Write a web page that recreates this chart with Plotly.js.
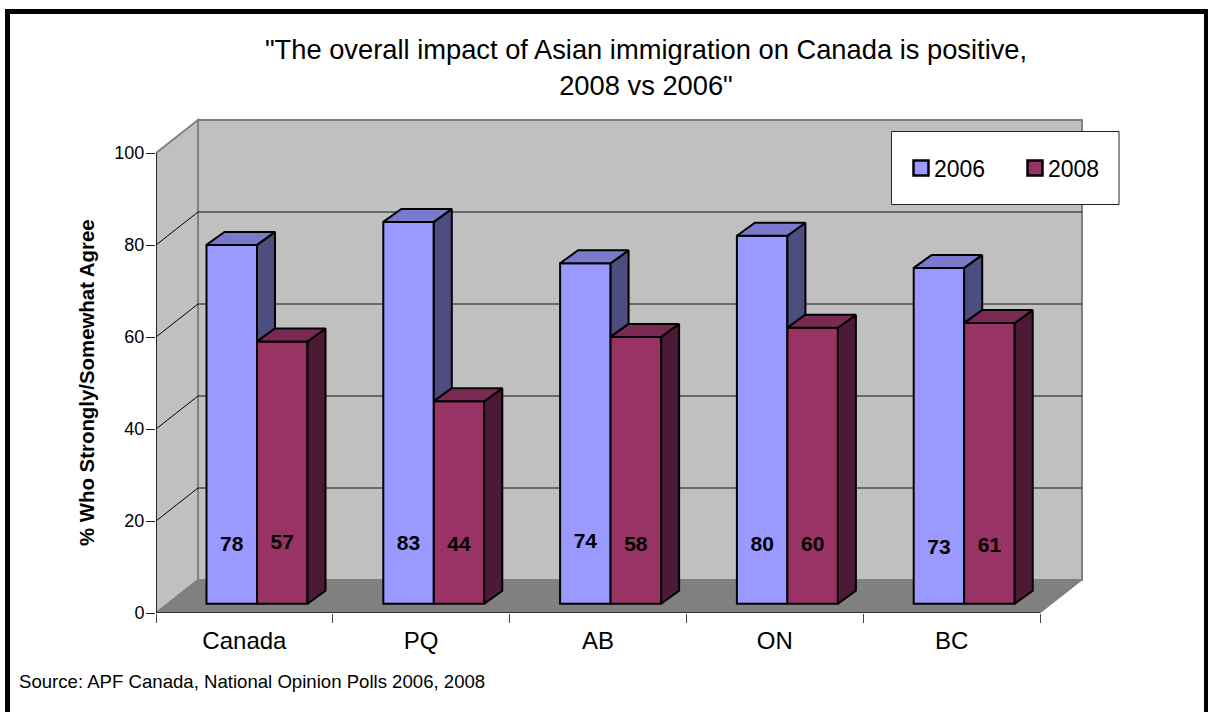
<!DOCTYPE html>
<html>
<head>
<meta charset="utf-8">
<script src="https://cdn.plot.ly/plotly-3.0.1.min.js"></script>
<style>
html,body{margin:0;padding:0;background:#fff;width:1208px;height:712px;overflow:hidden}
#chart{position:absolute;left:0;top:0;width:1208px;height:712px}
#frame{position:absolute;left:5px;top:9px;width:1194px;height:703px;border-left:5px solid #000;border-top:5px solid #000;border-right:4px solid #000;pointer-events:none}
</style>
</head>
<body>
<div id="chart"></div>
<div id="frame"></div>
<script>
const categories = ['Canada', 'PQ', 'AB', 'ON', 'BC'];
const values2006 = [78, 83, 74, 80, 73];
const values2008 = [57, 44, 58, 60, 61];
const labelHeight2006 = [14.6, 14.8, 15.2, 14.6, 13.9];
const labelHeight2008 = [15.0, 14.6, 14.6, 14.6, 14.3];
const yTicks = [0, 20, 40, 60, 80, 100];

const FONT = 'Liberation Sans, Arial, sans-serif';
// pixel scale of the axes
const PXX = 176.8, PXY = 4.6;
const L = 156, T = 116, BOT = 613, W = 930, H = BOT - T;
const xMin = -0.5, xEnd = 4.5;
const wallX = 42 / PXX, wallY = 33 / PXY;      // depth of the box
const depthX = 18 / PXX, depthY = 13 / PXY;    // depth of a bar
const barW = 50.5 / PXX, shift = 12.6 / PXX, barBase = 9.3 / PXY;
const xRange = [xMin, xMin + W / PXX];
const yRange = [0, H / PXY];
const pos = categories.map((c, i) => i);

function polys(list) {
  const x = [], y = [];
  list.forEach(p => { p.forEach(q => { x.push(q[0]); y.push(q[1]); }); x.push(p[0][0]); y.push(p[0][1]); x.push(null); y.push(null); });
  return {x, y};
}
function face(list, color) {
  const d = polys(list);
  return {type: 'scatter', mode: 'lines', x: d.x, y: d.y, fill: 'toself', fillcolor: color,
          line: {color: '#000', width: 2}, showlegend: false, hoverinfo: 'skip', cliponaxis: false};
}
const top6 = values2006.map(v => v + barBase), top8 = values2008.map(v => v + barBase);
const side6 = pos.map(i => { const x = i + shift; return [[x, top6[i]], [x + depthX, top6[i] + depthY], [x + depthX, top8[i] + depthY], [x, top8[i]]]; });
const cap6 = pos.map(i => { const r = i + shift, l = r - barW; return [[l, top6[i]], [l + depthX, top6[i] + depthY], [r + depthX, top6[i] + depthY], [r, top6[i]]]; });
const side8 = pos.map(i => { const x = i + shift + barW; return [[x, top8[i]], [x + depthX, top8[i] + depthY], [x + depthX, barBase + depthY], [x, barBase]]; });
const cap8 = pos.map(i => { const l = i + shift, r = l + barW; return [[l, top8[i]], [l + depthX, top8[i] + depthY], [r + depthX, top8[i] + depthY], [r, top8[i]]]; });

function barTrace(name, vals, color, offset) {
  return {type: 'bar', name, x: pos.map(i => i + shift), y: vals, base: pos.map(() => barBase),
          width: barW, offset, marker: {color, line: {color: '#000', width: 2}}, hoverinfo: 'skip', cliponaxis: false};
}
function labelTrace(vals, heights, offset) {
  return {type: 'scatter', mode: 'text', x: pos.map(i => i + shift + offset), y: heights, text: vals.map(String),
          textposition: 'middle center', textfont: {family: FONT, size: 21, color: '#000', weight: 700},
          showlegend: false, hoverinfo: 'skip', cliponaxis: false};
}
const axisLines = {type: 'scatter', mode: 'lines', x: [xMin, xMin, null, xMin, xEnd], y: [100, 0, null, 0, 0],
                   line: {color: '#111', width: 1.6}, showlegend: false, hoverinfo: 'skip', cliponaxis: false};

const traces = [
  barTrace('2006', values2006, '#9999FF', -barW),
  barTrace('2008', values2008, '#993366', 0),
  face(side6, '#4D4D80'), face(cap6, '#7A7ACC'),
  face(side8, '#4D1A33'), face(cap8, '#7A2952'),
  labelTrace(values2006, labelHeight2006, -barW / 2),
  labelTrace(values2008, labelHeight2008, barW / 2),
  axisLines
];

function path(pts) { return 'M' + pts.map(p => p[0] + ' ' + p[1]).join('L') + 'Z'; }
const shapes = [
  {type: 'path', layer: 'below', xref: 'x', yref: 'y', fillcolor: '#C0C0C0', line: {color: '#808080', width: 2},
   path: path([[xMin + wallX, wallY], [xEnd + wallX, wallY], [xEnd + wallX, 100 + wallY], [xMin + wallX, 100 + wallY]])},
  {type: 'path', layer: 'below', xref: 'x', yref: 'y', fillcolor: '#C0C0C0', line: {color: '#808080', width: 2},
   path: path([[xMin, 0], [xMin + wallX, wallY], [xMin + wallX, 100 + wallY], [xMin, 100]])},
  {type: 'path', layer: 'below', xref: 'x', yref: 'y', fillcolor: '#808080', line: {color: '#808080', width: 1},
   path: path([[xMin, 0], [xMin + wallX, wallY], [xEnd + wallX, wallY], [xEnd, 0]])}
];
yTicks.filter(v => v > 0 && v < 100).forEach(v => {
  shapes.push({type: 'line', layer: 'below', xref: 'x', yref: 'y', x0: xMin, y0: v, x1: xMin + wallX, y1: v + wallY, line: {color: '#000', width: 1}});
  shapes.push({type: 'line', layer: 'below', xref: 'x', yref: 'y', x0: xMin + wallX, y0: v + wallY, x1: xEnd + wallX, y1: v + wallY, line: {color: '#111', width: 1}});
});
// legend panel
shapes.push({type: 'rect', layer: 'above', xref: 'paper', yref: 'paper',
  x0: (891.5 - L) / W, x1: (1119 - L) / W, y0: (BOT - 204.5) / H, y1: (BOT - 131.5) / H,
  fillcolor: '#fff', line: {color: '#222', width: 1}});

const layout = {
  width: 1208, height: 712,
  margin: {l: L, t: T, r: 1208 - L - W, b: 712 - BOT, pad: 0},
  paper_bgcolor: '#fff', plot_bgcolor: 'rgba(0,0,0,0)',
  barmode: 'overlay',
  font: {family: FONT, color: '#000'},
  title: {text: '"The overall impact of Asian immigration on Canada is positive,<br>2008 vs 2006"',
          font: {family: FONT, size: 27.3, color: '#000'}, x: 646 / 1208, xanchor: 'center', y: 0.917, yanchor: 'middle'},
  xaxis: {range: xRange, showgrid: false, zeroline: false, showline: false, ticks: '',
          tickmode: 'array', tickvals: pos, ticktext: categories, ticklabelstandoff: 11,
          tickfont: {family: FONT, size: 24, color: '#000'},
          minor: {ticks: 'outside', ticklen: 9, tickwidth: 1, tickcolor: '#444', tickmode: 'array', tickvals: [-0.5, 0.5, 1.5, 2.5, 3.5, 4.5], showgrid: false}},
  yaxis: {range: yRange, showgrid: false, zeroline: false, showline: false, ticks: 'outside', ticklen: 9, tickwidth: 1, tickcolor: '#222',
          tickmode: 'array', tickvals: yTicks, ticktext: yTicks.map(String), ticklabelstandoff: -2,
          tickfont: {family: FONT, size: 18, color: '#000'}},
  legend: {orientation: 'h', x: (894 - L) / W, xanchor: 'left', y: (BOT - 168) / H, yanchor: 'middle',
           bgcolor: 'rgba(0,0,0,0)', borderwidth: 0, font: {family: FONT, size: 23, color: '#000'},
           entrywidth: 69, entrywidthmode: 'pixels', traceorder: 'normal'},
  shapes,
  annotations: [
    {text: '% Who Strongly/Somewhat Agree', textangle: -90, xref: 'paper', yref: 'paper',
     x: (87 - L) / W, y: (BOT - 383) / H, xanchor: 'center', yanchor: 'middle', showarrow: false,
     font: {family: FONT, size: 20.4, color: '#000', weight: 700}},
    {text: 'Source: APF Canada, National Opinion Polls 2006, 2008', xref: 'paper', yref: 'paper',
     x: (17 - L) / W, y: (BOT - 681) / H, xanchor: 'left', yanchor: 'middle', showarrow: false,
     font: {family: FONT, size: 18.6, color: '#000'}}
  ]
};
Plotly.newPlot('chart', traces, layout, {displayModeBar: false, staticPlot: true}).then(() => {
  // legend swatches sit closer to their text and are a little larger in the reference
  document.querySelectorAll('#chart .legend .legendpoints path')
    .forEach(p => p.setAttribute('transform', 'translate(27,0) scale(1.25)'));
});
</script>
</body>
</html>
